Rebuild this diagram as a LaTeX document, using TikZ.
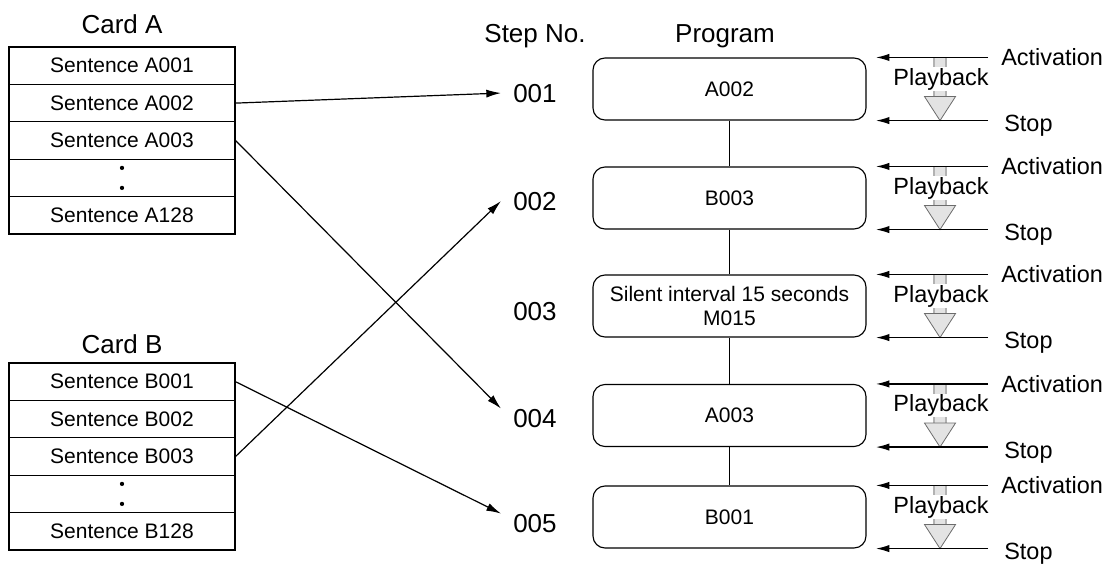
\documentclass[tikz,border=0pt]{standalone}
\usepackage{fontspec}
\setmainfont{Liberation Sans}
\usetikzlibrary{arrows.meta,calc}
\begin{document}
\begin{tikzpicture}[x=0.75pt,y=-0.75pt,
  cell/.style={draw, line width=0.85pt, minimum width=169.5pt, minimum height=28.05pt, inner sep=0pt, font=\fontsize{15.75}{18}\selectfont},
  title/.style={font=\fontsize{19.5}{22}\selectfont, anchor=base, inner sep=0pt},
  prog/.style={draw, line width=0.85pt, rounded corners=9pt, minimum width=204.75pt, minimum height=46.5pt, align=center, font=\fontsize{15.75}{18.5}\selectfont},
  stepnum/.style={font=\fontsize{19.5}{22}\selectfont, anchor=base west, inner xsep=9pt, inner ysep=0pt},
  link/.style={line width=0.9pt, -{Latex[length=11pt,width=6pt]}},
  sig/.style={line width=0.9pt, -{Latex[length=10pt,width=5.5pt]}},
  side/.style={font=\fontsize{17.6}{20}\selectfont, anchor=base west, inner sep=0pt},
  dotmark/.style={circle, fill, inner sep=0pt, minimum size=3.2pt},
  shaft/.style={fill=gray!22, draw=gray!60, line width=0.8pt},
  head/.style={fill=gray!22, draw=gray!85!black, line width=0.6pt, line join=miter}
]
\useasboundingbox (0,0) rectangle (1105,565);

% Card A
\node[title] (ta) at (122,33) {Card A};
\node[cell] (a1) at (122,65.7) {Sentence A001};
\node[cell] (a2) at (122,103.1) {Sentence A002};
\node[cell] (a3) at (122,140.5) {Sentence A003};
\node[cell] (a4) at (122,177.9) {};
\node[dotmark] (a4u) at ($(a4.center)+(0,-10)$) {};
\node[dotmark] (a4d) at ($(a4.center)+(0,10)$) {};
\node[cell] (a5) at (122,215.3) {Sentence A128};

% Card B
\node[title] (tb) at (122,353) {Card B};
\node[cell] (b1) at (122,381.7) {Sentence B001};
\node[cell] (b2) at (122,419.1) {Sentence B002};
\node[cell] (b3) at (122,456.5) {Sentence B003};
\node[cell] (b4) at (122,493.9) {};
\node[dotmark] (b4u) at ($(b4.center)+(0,-10)$) {};
\node[dotmark] (b4d) at ($(b4.center)+(0,10)$) {};
\node[cell] (b5) at (122,531.3) {Sentence B128};

% headings
\node[title] (tstep) at (535,42) {Step No.};
\node[title] (tprog) at (725,42) {Program};

% program boxes
\node[prog] (p1) at (729.5,89) {A002};
\node[prog] (p2) at (729.5,198) {B003};
\node[prog] (p3) at (729.5,306) {Silent interval 15 seconds\\M015};
\node[prog] (p4) at (729.5,415.5) {A003};
\node[prog] (p5) at (729.5,517) {B001};
\draw[line width=0.85pt] (p1.south) -- (p2.north);
\draw[line width=0.85pt] (p2.south) -- (p3.north);
\draw[line width=0.85pt] (p3.south) -- (p4.north);
\draw[line width=0.85pt] (p4.south) -- (p5.north);

% step numbers
\node[stepnum] (s1) at (501,102) {001};
\node[stepnum] (s2) at (501,210) {002};
\node[stepnum] (s3) at (501,320) {003};
\node[stepnum] (s4) at (501,427) {004};
\node[stepnum] (s5) at (501,532) {005};

% links
\draw[link] (a2.east) -- (s1.west);
\draw[link] (a3.east) -- (s4.north west);
\draw[link] (b3.east) -- (s2.west);
\draw[link] (b1.east) -- (s5.north west);

% right side signals
\coordinate (xr) at (988,0);
\coordinate (xl) at (876,0);
\coordinate (xt) at (1001,0);
\coordinate (xp) at (940,0);
\foreach \i in {1,...,5}{
  \draw[shaft] ($(p\i.north -| xp)+(-6,0)$) rectangle ($(p\i.south -| xp)+(6,-24)$);
  \draw[head] ($(p\i.south -| xp)+(-15.5,-24)$) -- (p\i.south -| xp) -- ($(p\i.south -| xp)+(15.5,-24)$) -- cycle;
  \node[font=\fontsize{17.6}{20}\selectfont, fill=white, inner xsep=0pt, inner ysep=0.5pt, anchor=base] (pb\i) at ($(p\i.center -| xp)+(1,-4)$) {Playback};
  \draw[sig] (p\i.north -| xr) -- (p\i.north -| xl);
  \draw[sig] (p\i.south -| xr) -- (p\i.south -| xl);
  \node[side] (act\i) at ($(p\i.north -| xt)+(0,8.5)$) {Activation};
  \node[side] (stp\i) at ($(p\i.south -| xt)+(3,11)$) {Stop};
}
\end{tikzpicture}
\end{document}
